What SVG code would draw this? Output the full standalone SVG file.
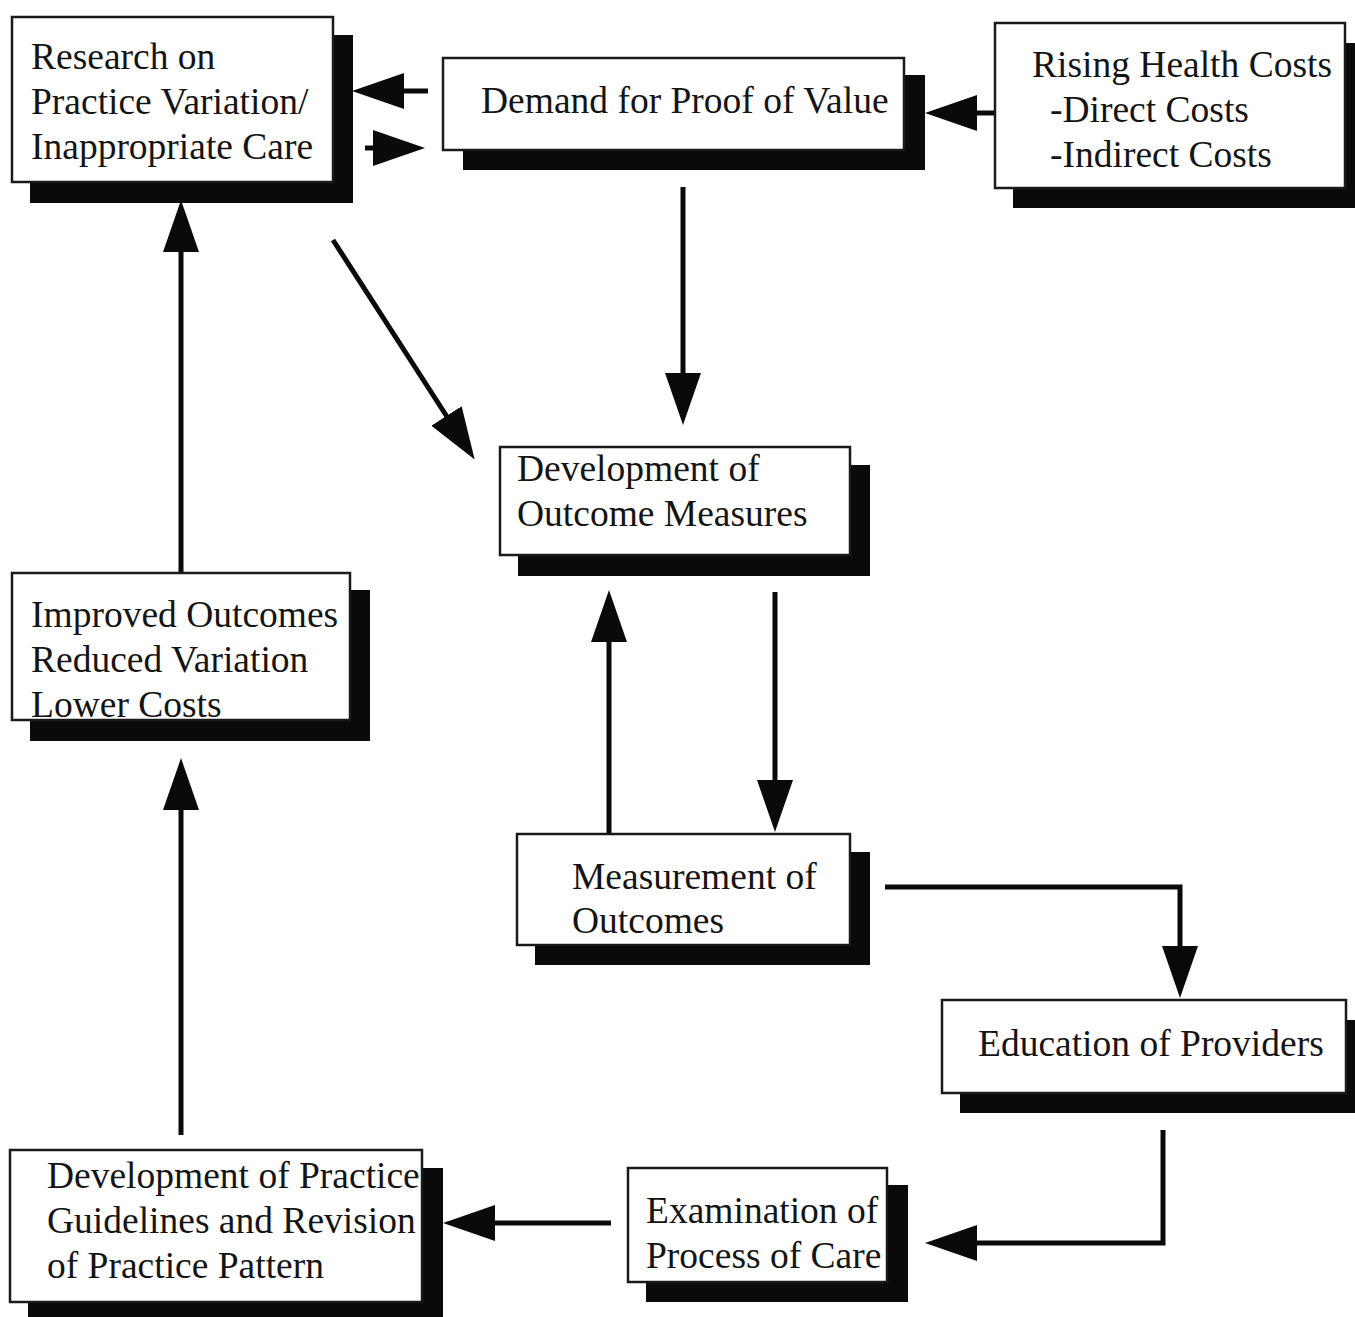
<svg xmlns="http://www.w3.org/2000/svg" width="1355" height="1317" viewBox="0 0 1355 1317">
<style>
.bg{fill:#fff}
.sh{fill:#0a0a0a}
.bx{fill:#fff;stroke:#1a1a1a;stroke-width:2.5}
.t{font-family:"Liberation Serif","Times New Roman",serif;font-size:37.5px;fill:#141414}
.c{fill:none;stroke:#0a0a0a;stroke-width:5}
</style>
<defs>
<marker id="ah" markerUnits="userSpaceOnUse" markerWidth="52" markerHeight="36" refX="12" refY="18" orient="auto">
<path d="M0,0 L52,18 L0,36 z" fill="#0a0a0a"/>
</marker>
</defs>
<rect class="bg" x="0" y="0" width="1355" height="1317"/>
<g id="connectors">
<line class="c" x1="428" y1="91" x2="392" y2="91" marker-end="url(#ah)"/>
<line class="c" x1="365" y1="148" x2="385" y2="148" marker-end="url(#ah)"/>
<line class="c" x1="997" y1="113" x2="965" y2="113" marker-end="url(#ah)"/>
<line class="c" x1="683" y1="187" x2="683" y2="385" marker-end="url(#ah)"/>
<line class="c" x1="333" y1="240" x2="453" y2="426" marker-end="url(#ah)"/>
<line class="c" x1="181" y1="572" x2="181" y2="240" marker-end="url(#ah)"/>
<line class="c" x1="181" y1="1135" x2="181" y2="798" marker-end="url(#ah)"/>
<line class="c" x1="609" y1="833" x2="609" y2="630" marker-end="url(#ah)"/>
<line class="c" x1="775" y1="592" x2="775" y2="792" marker-end="url(#ah)"/>
<path class="c" d="M885,887 H1180 V958" marker-end="url(#ah)"/>
<path class="c" d="M1163,1130 V1243 H965" marker-end="url(#ah)"/>
<line class="c" x1="611" y1="1223" x2="483" y2="1223" marker-end="url(#ah)"/>
</g>
<g id="research">
<rect class="sh" x="30" y="35" width="323" height="168"/>
<rect class="bx" x="12" y="17" width="321" height="165"/>
<text class="t" x="31" y="69">Research on</text>
<text class="t" x="31" y="114">Practice Variation/</text>
<text class="t" x="31" y="159">Inappropriate Care</text>
</g>
<g id="demand">
<rect class="sh" x="463" y="75" width="462" height="95"/>
<rect class="bx" x="443" y="58" width="461" height="92"/>
<text class="t" x="481" y="113">Demand for Proof of Value</text>
</g>
<g id="rising">
<rect class="sh" x="1013" y="43" width="342" height="165"/>
<rect class="bx" x="995" y="23" width="350" height="165"/>
<text class="t" x="1032" y="77">Rising Health Costs</text>
<text class="t" x="1050" y="122">-Direct Costs</text>
<text class="t" x="1050" y="167">-Indirect Costs</text>
</g>
<g id="devmeasures">
<rect class="sh" x="518" y="465" width="352" height="111"/>
<rect class="bx" x="500" y="447" width="350" height="108"/>
<text class="t" x="517" y="481">Development of</text>
<text class="t" x="517" y="526">Outcome Measures</text>
</g>
<g id="improved">
<rect class="sh" x="30" y="590" width="340" height="151"/>
<rect class="bx" x="12" y="573" width="338" height="147"/>
<text class="t" x="31" y="627">Improved Outcomes</text>
<text class="t" x="31" y="672">Reduced Variation</text>
<text class="t" x="31" y="717">Lower Costs</text>
</g>
<g id="measurement">
<rect class="sh" x="535" y="852" width="335" height="113"/>
<rect class="bx" x="517" y="834" width="333" height="111"/>
<text class="t" x="572" y="889">Measurement of</text>
<text class="t" x="572" y="933">Outcomes</text>
</g>
<g id="education">
<rect class="sh" x="960" y="1020" width="395" height="93"/>
<rect class="bx" x="942" y="1000" width="404" height="93"/>
<text class="t" x="978" y="1056">Education of Providers</text>
</g>
<g id="examination">
<rect class="sh" x="646" y="1185" width="262" height="117"/>
<rect class="bx" x="628" y="1168" width="259" height="114"/>
<text class="t" x="646" y="1223">Examination of</text>
<text class="t" x="646" y="1268">Process of Care</text>
</g>
<g id="devpractice">
<rect class="sh" x="28" y="1168" width="415" height="149"/>
<rect class="bx" x="10" y="1150" width="412" height="152"/>
<text class="t" x="47" y="1188">Development of Practice</text>
<text class="t" x="47" y="1233">Guidelines and Revision</text>
<text class="t" x="47" y="1278">of Practice Pattern</text>
</g>
</svg>
